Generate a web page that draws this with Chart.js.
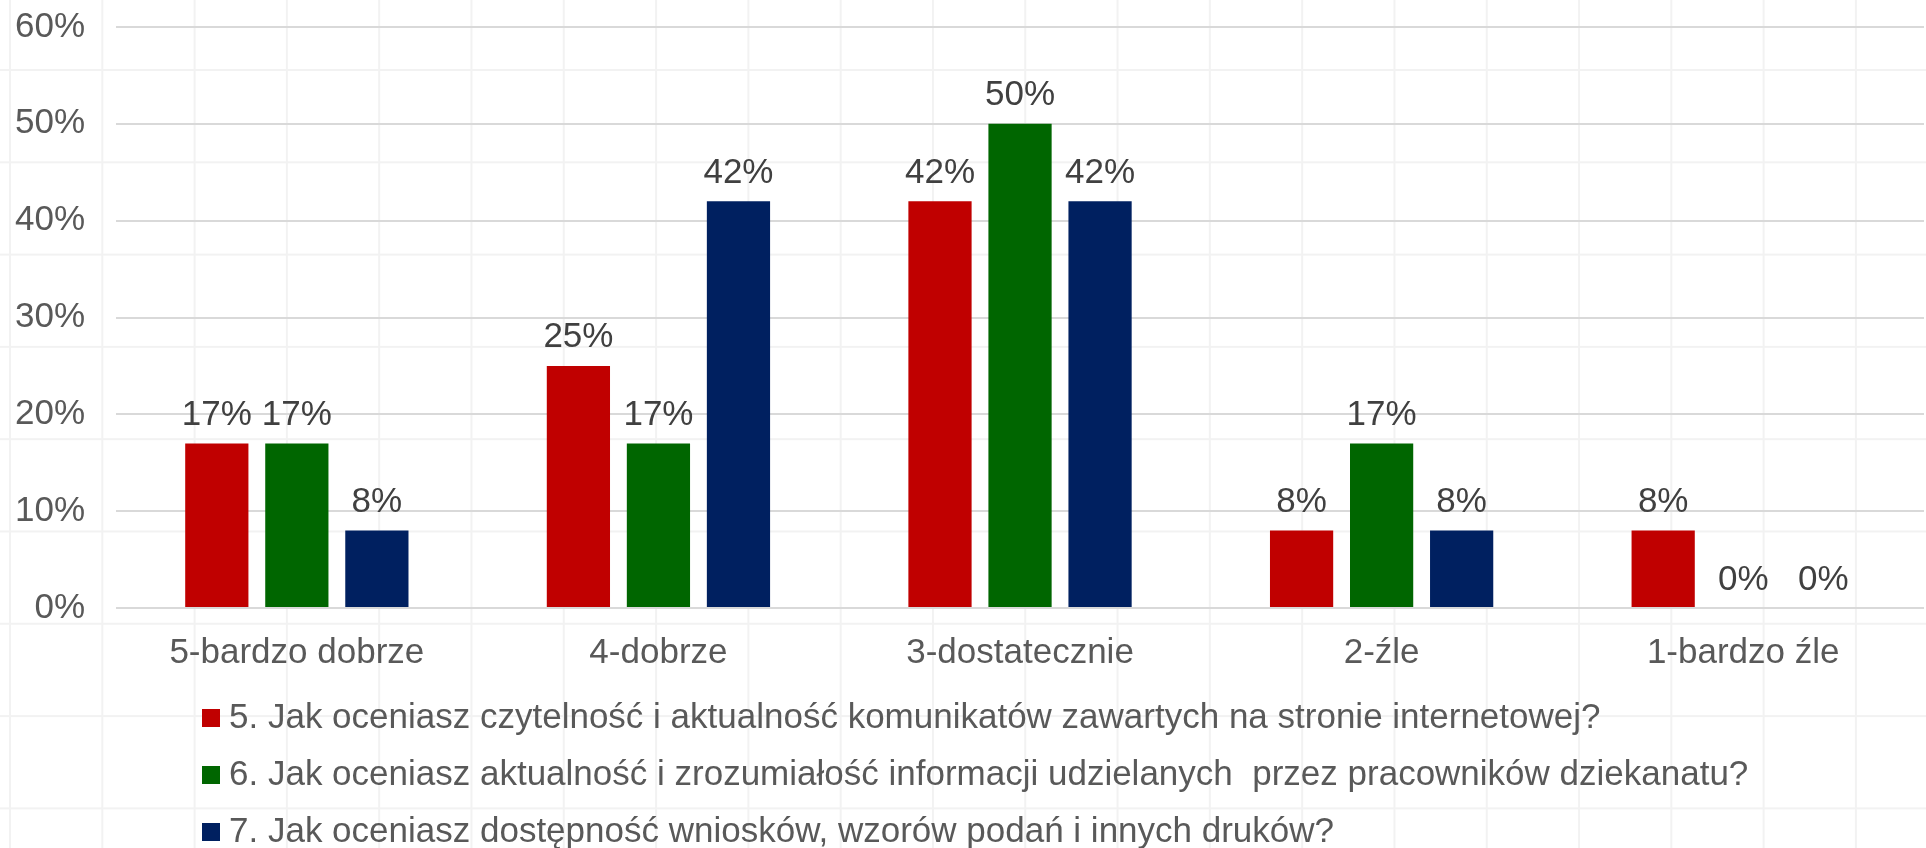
<!DOCTYPE html>
<html>
<head>
<meta charset="utf-8">
<script src="https://cdn.jsdelivr.net/npm/chart.js@4/dist/chart.umd.min.js"></script>
<style>
html, body { margin: 0; padding: 0; background: #ffffff; }
body {
  width: 1926px; height: 848px; overflow: hidden;
  background-image:
    linear-gradient(to right, #f2f2f2 0, #f2f2f2 2px, transparent 2px),
    linear-gradient(to bottom, #f2f2f2 0, #f2f2f2 2px, transparent 2px);
  background-size: 92.3px 92.3px;
  background-position: 9px 69px;
}
canvas { display: block; }
</style>
</head>
<body>
<canvas id="chart" width="1926" height="848"></canvas>
<script>
// ---- data ----
const categories = ['5-bardzo dobrze', '4-dobrze', '3-dostatecznie', '2-źle', '1-bardzo źle'];
const seriesNames = [
  '5. Jak oceniasz czytelność i aktualność komunikatów zawartych na stronie internetowej?',
  '6. Jak oceniasz aktualność i zrozumiałość informacji udzielanych  przez pracowników dziekanatu?',
  '7. Jak oceniasz dostępność wniosków, wzorów podań i innych druków?'
];
const q5Values = [17, 25, 42, 8, 8];
const q6Values = [17, 17, 50, 17, 0];
const q7Values = [8, 42, 42, 8, 0];
const yTickValues = [0, 10, 20, 30, 40, 50, 60];
const seriesColors = ['#C00000', '#006600', '#002060'];

// ---- style ----
const FONT_FAMILY = '"Liberation Sans", Arial, sans-serif';
const FONT_SIZE = 35;
const LEGEND_INDENT = 156.5;

Chart.defaults.font.family = FONT_FAMILY;
Chart.defaults.font.size = FONT_SIZE;
Chart.defaults.color = '#595959';

function legendMarker(color) {
  const c = document.createElement('canvas');
  c.width = 35; c.height = 18;
  const g = c.getContext('2d');
  g.fillStyle = color;
  g.fillRect(17, 0, 18, 18);
  return c;
}
const markers = seriesColors.map(legendMarker);

const barLabels = {
  id: 'barLabels',
  afterDatasetsDraw(chart) {
    const ctx = chart.ctx;
    ctx.save();
    ctx.font = FONT_SIZE + 'px ' + FONT_FAMILY;
    ctx.fillStyle = '#404040';
    ctx.textAlign = 'center';
    ctx.textBaseline = 'alphabetic';
    chart.data.datasets.forEach((ds, i) => {
      const meta = chart.getDatasetMeta(i);
      meta.data.forEach((el, j) => {
        ctx.fillText(ds.data[j] + '%', el.x, el.y - 18.5);
      });
    });
    ctx.restore();
  }
};

const legendIndent = {
  id: 'legendIndent',
  afterLayout(chart) {
    if (chart.legend) {
      chart.legend.left += LEGEND_INDENT;
      chart.legend.right += LEGEND_INDENT;
      chart.legend.top += 2;
      chart.legend.bottom += 2;
    }
  }
};

const valueSets = [q5Values, q6Values, q7Values];

new Chart(document.getElementById('chart'), {
  type: 'bar',
  data: {
    labels: categories,
    datasets: seriesNames.map((name, i) => ({
      label: name,
      data: valueSets[i],
      backgroundColor: seriesColors[i],
      borderWidth: 0,
      categoryPercentage: 0.664,
      barPercentage: 0.79
    }))
  },
  options: {
    responsive: false,
    animation: false,
    devicePixelRatio: 1,
    layout: { padding: { top: 27, left: 15, right: 2, bottom: -9.5 } },
    scales: {
      x: {
        grid: { display: false, drawTicks: false },
        border: { display: false },
        ticks: { padding: 24, color: '#595959', font: { size: FONT_SIZE, lineHeight: 1.2 }, maxRotation: 0, autoSkip: false },
        afterFit(scale) { scale.height = 68.5; }
      },
      y: {
        min: 0,
        max: 60,
        afterBuildTicks(scale) { scale.ticks = yTickValues.map(v => ({ value: v })); },
        grid: { color: '#d9d9d9', lineWidth: 2, drawTicks: false },
        border: { display: false },
        ticks: { padding: 31, color: '#595959', callback: v => v + '%' },
        afterFit(scale) {
          scale.width = scale.width - scale.options.ticks.padding;
          scale.paddingTop = 0;
        }
      }
    },
    plugins: {
      tooltip: { enabled: false },
      legend: {
        position: 'bottom',
        align: 'start',
        labels: {
          usePointStyle: true,
          boxWidth: 18,
          boxHeight: 18,
          padding: 22,
          color: '#595959',
          font: { size: FONT_SIZE },
          generateLabels(chart) {
            const items = Chart.defaults.plugins.legend.labels.generateLabels(chart);
            items.forEach((it, i) => { it.pointStyle = markers[i]; });
            return items;
          }
        }
      }
    }
  },
  plugins: [barLabels, legendIndent]
});
</script>
</body>
</html>
